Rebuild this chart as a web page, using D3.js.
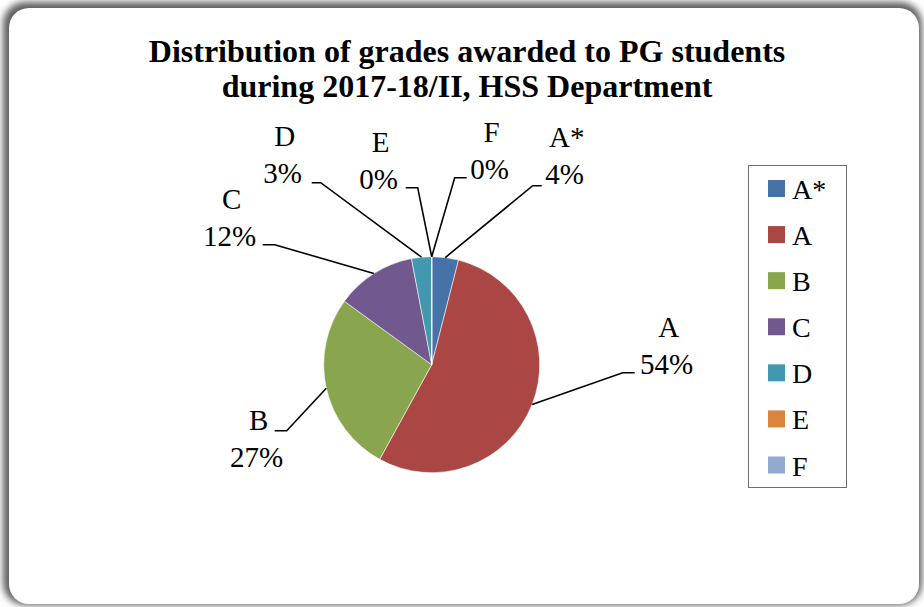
<!DOCTYPE html>
<html>
<head>
<meta charset="utf-8">
<script src="https://cdn.jsdelivr.net/npm/d3@7"></script>
<style>
  html, body { margin: 0; padding: 0; background: #fff; }
  svg { display: block; }
  text { font-family: "Liberation Serif", "Times New Roman", "DejaVu Serif", serif; fill: #000; }
</style>
</head>
<body>
<svg id="chart" width="924" height="607"></svg>
<script>
// Grade categories and their share of students (%)
const grades = ["A*", "A", "B", "C", "D", "E", "F"];
const shares = [4, 54, 27, 12, 3, 0, 0];
const sliceColors = ["#4572A7", "#AA4643", "#89A54E", "#71588F", "#4198AF", "#DB843D", "#93A9CF"];
const titleLines = ["Distribution of grades awarded to PG students", "during 2017-18/II, HSS Department"];

// Data-label placement around the pie (relative to pie centre):
// text centre x, first-line baseline y, leader elbow, leader end
const labelLayout = [
  { tx: 135, ty: -218, ex: 101, ey: -179, hx: 110 },  // A*
  { tx: 237, ty: -28,  ex: 191, ey: 8,    hx: 203 },  // A
  { tx: -173, ty: 65,  ex: -145, ey: 66,  hx: -157 }, // B
  { tx: -200, ty: -156, ex: -157, ey: -120, hx: -169 },// C
  { tx: -147, ty: -219, ex: -111, ey: -182, hx: -120 },// D
  { tx: -51, ty: -213, ex: -14, ey: -177, hx: -26 },   // E
  { tx: 60,  ty: -223, ex: 23,  ey: -187, hx: 35 }     // F
];

const svg = d3.select("#chart");
const W = 924, H = 607;

// Chart frame with soft shadow
const defs = svg.append("defs");
const blur = defs.append("filter").attr("id", "shadow")
  .attr("x", "-5%").attr("y", "-5%").attr("width", "110%").attr("height", "110%");
blur.append("feGaussianBlur").attr("stdDeviation", 3.5);

svg.append("rect").attr("width", W).attr("height", H).attr("fill", "#fff");
svg.append("rect")
  .attr("x", 3).attr("y", 2).attr("width", 919).attr("height", 603)
  .attr("rx", 22).attr("fill", "#5e5e5e").attr("filter", "url(#shadow)");
svg.append("rect")
  .attr("x", 9).attr("y", 8).attr("width", 910).attr("height", 596)
  .attr("rx", 20).attr("fill", "#fff");

// Title
const title = svg.append("text")
  .attr("text-anchor", "middle")
  .style("font-weight", "bold")
  .style("font-size", "32px");
titleLines.forEach((line, i) => {
  title.append("tspan").attr("x", 467).attr("y", 62 + i * 35).text(line);
});

// Pie
const cx = 431.7, cy = 364.7, R = 108;
const color = d3.scaleOrdinal().domain(grades).range(sliceColors);
const pie = d3.pie().sort(null).value(d => d.value);
const arcs = pie(grades.map((g, i) => ({ grade: g, value: shares[i] })));
const arc = d3.arc().innerRadius(0).outerRadius(R);

const g = svg.append("g").attr("transform", `translate(${cx},${cy})`);
g.selectAll("path.slice")
  .data(arcs)
  .join("path")
  .attr("class", "slice")
  .attr("d", arc)
  .attr("fill", d => color(d.data.grade))
  .attr("stroke", "#fff")
  .attr("stroke-opacity", 0.7)
  .attr("stroke-width", 0.8);

// Leader lines: from the slice edge at its mid-angle to the label
g.selectAll("polyline.leader")
  .data(arcs)
  .join("polyline")
  .attr("class", "leader")
  .attr("fill", "none")
  .attr("stroke", "#000")
  .attr("stroke-width", 1.6)
  .attr("points", (d, i) => {
    const L = labelLayout[i];
    const mid = (d.startAngle + d.endAngle) / 2;
    const sx = R * Math.sin(mid), sy = -R * Math.cos(mid);
    return [[sx, sy], [L.ex, L.ey], [L.hx, L.ey]].map(p => p.join(",")).join(" ");
  });

// Data labels: category name and percentage
const labels = g.selectAll("text.dl")
  .data(arcs)
  .join("text")
  .attr("class", "dl")
  .attr("text-anchor", "middle")
  .style("font-size", "29px");
labels.append("tspan")
  .attr("x", (d, i) => labelLayout[i].tx)
  .attr("y", (d, i) => labelLayout[i].ty)
  .text(d => d.data.grade);
labels.append("tspan")
  .attr("x", (d, i) => labelLayout[i].tx - 2)
  .attr("y", (d, i) => labelLayout[i].ty + 37)
  .text(d => d3.format(".0f")(d.value) + "%");

// Legend
const legend = svg.append("g");
legend.append("rect")
  .attr("x", 748.5).attr("y", 165.5).attr("width", 98).attr("height", 322)
  .attr("fill", "#fff").attr("stroke", "#6e6e6e").attr("stroke-width", 1);
const ly = d3.scalePoint().domain(grades).range([188.5, 465]);
const items = legend.selectAll("g.item")
  .data(grades)
  .join("g")
  .attr("class", "item")
  .attr("transform", d => `translate(0,${ly(d)})`);
items.append("rect")
  .attr("x", 768).attr("y", -8.5).attr("width", 17).attr("height", 17)
  .attr("fill", d => color(d));
items.append("text")
  .attr("x", 792).attr("y", 10.5)
  .style("font-size", "28px")
  .text(d => d);
</script>
</body>
</html>
